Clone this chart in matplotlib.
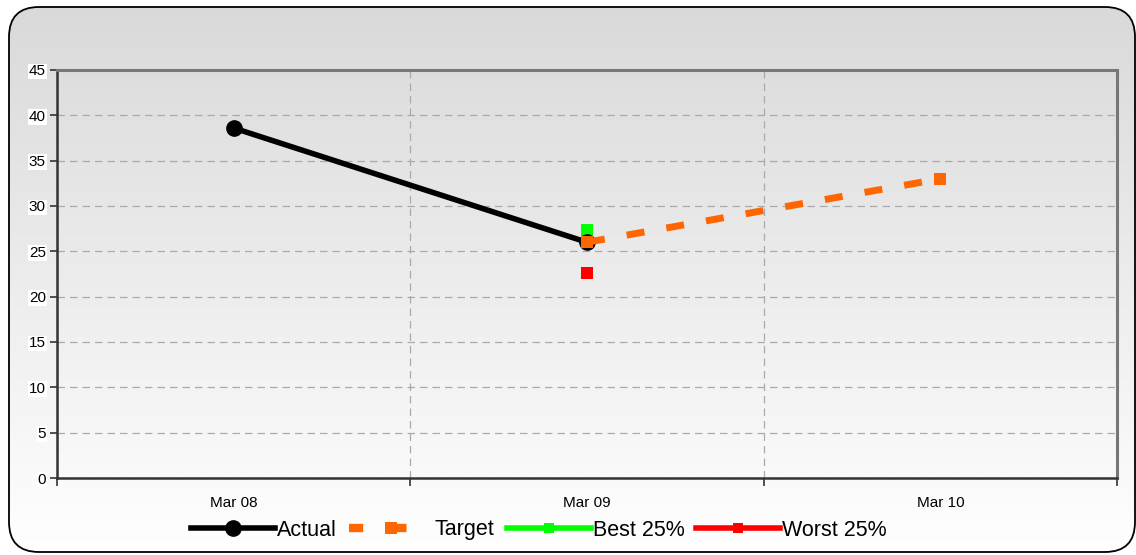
import numpy as np
import matplotlib
matplotlib.use("Agg")
import matplotlib.pyplot as plt
from matplotlib.patches import FancyBboxPatch
from matplotlib.lines import Line2D

plt.rcParams['font.family'] = ['Liberation Sans', 'DejaVu Sans']

categories = ["Mar 08", "Mar 09", "Mar 10"]
actual = [38.6, 26.0, None]
target = [None, 26.0, 33.0]
best25 = [None, 27.3, None]
worst25 = [None, 22.6, None]
yticks = [0, 5, 10, 15, 20, 25, 30, 35, 40, 45]

W, H = 1136, 555
fig = plt.figure(figsize=(W / 100, H / 100), dpi=100)

# Background rounded panel with vertical gradient
bg_ax = fig.add_axes([0, 0, 1, 1], zorder=-10)
bg_ax.set_xlim(0, W)
bg_ax.set_ylim(0, H)
bg_ax.axis('off')
panel = FancyBboxPatch((9, 3), W - 10, H - 10,
                       boxstyle="round,pad=0,rounding_size=30",
                       facecolor='none', edgecolor='black', linewidth=1.3,
                       transform=bg_ax.transData, zorder=3)
bg_ax.add_patch(panel)
cols = np.zeros((256, 1, 3))
top = np.array([0.85, 0.85, 0.85])
bot = np.array([1.0, 1.0, 1.0])
for i in range(256):
    t = i / 255
    cols[i, 0] = top * (1 - t) + bot * t
img = bg_ax.imshow(cols, extent=[0, W, 0, H], origin='upper', aspect='auto', zorder=1)
clip = FancyBboxPatch((9, 3), W - 10, H - 10,
                      boxstyle="round,pad=0,rounding_size=30",
                      transform=bg_ax.transData, facecolor='none', edgecolor='none')
bg_ax.add_patch(clip)
img.set_clip_path(clip)

# Plot area: x 57..1117, y 70..478 (pixels from top)
left, right, top_px, bot_px = 57, 1117, 70, 478
ax = fig.add_axes([left / W, 1 - bot_px / H, (right - left) / W, (bot_px - top_px) / H])
ax.patch.set_alpha(0)

x = np.arange(len(categories))
def arr(v):
    return np.array([np.nan if a is None else a for a in v], dtype=float)

ax.plot(x, arr(target), color='#ff6600', linewidth=5, linestyle=(0, (2.6, 3.2)),
        marker='s', markersize=8, markeredgewidth=0, zorder=4, solid_capstyle='butt')
ax.plot(x, arr(actual), color='black', linewidth=4, marker='o', markersize=11, zorder=3)
ax.plot(x, arr(best25), color='#00ff00', linewidth=4, marker='s', markersize=8,
        markeredgewidth=0, zorder=2)
ax.plot(x, arr(worst25), color='#ff0000', linewidth=4, marker='s', markersize=8,
        markeredgewidth=0, zorder=2)
ax.plot([1], [target[1]], color='#ff6600', marker='s', markersize=8, markeredgewidth=0,
        linestyle='none', zorder=5)

ax.set_xlim(-0.5, len(categories) - 0.5)
ax.set_ylim(0, 45)
ax.set_yticks(yticks)
ax.set_yticklabels([str(v) for v in yticks], fontsize=11)
for lbl in ax.get_yticklabels():
    lbl.set_bbox(dict(facecolor='white', edgecolor='none', pad=0.5))
ax.set_xticks(x)
ax.set_xticklabels(categories, fontsize=11)
ax.set_xticks(np.arange(-0.5, len(categories)), minor=True)
ax.tick_params(axis='x', which='major', length=0, pad=13)
ax.tick_params(axis='x', which='minor', length=6, width=1.2, direction='out', color='#333333')
ax.tick_params(axis='y', length=5, width=1.2, direction='out', pad=3, color='#333333')

ax.yaxis.grid(True, linestyle=(0, (6, 4)), color='#aaaaaa', linewidth=0.9)
ax.xaxis.grid(True, which='minor', linestyle=(0, (6, 4)), color='#aaaaaa', linewidth=0.9)
ax.set_axisbelow(True)

ax.spines['left'].set_color('#333333')
ax.spines['left'].set_linewidth(1.8)
ax.spines['bottom'].set_color('#333333')
ax.spines['bottom'].set_linewidth(1.8)
ax.spines['top'].set_color('#777777')
ax.spines['top'].set_linewidth(2.2)
ax.spines['right'].set_color('#777777')
ax.spines['right'].set_linewidth(2.2)

handles = [
    Line2D([], [], color='black', linewidth=4, marker='o', markersize=11),
    Line2D([], [], color='#ff6600', linewidth=6, linestyle=(0, (1.7, 3.5)),
           marker='s', markersize=8, markeredgewidth=0),
    Line2D([], [], color='#00ff00', linewidth=4, marker='s', markersize=7, markeredgewidth=0),
    Line2D([], [], color='#ff0000', linewidth=4, marker='s', markersize=7, markeredgewidth=0),
]
labels = ["Actual", "Target", "Best 25%", "Worst 25%"]
fig.legend(handles, labels, loc='center', bbox_to_anchor=(539 / W, 1 - 530 / H),
           ncol=4, frameon=False, fontsize=15.5, handlelength=3.9, handletextpad=0.1,
           columnspacing=0.55)

fig.savefig("out.png", dpi=100)
